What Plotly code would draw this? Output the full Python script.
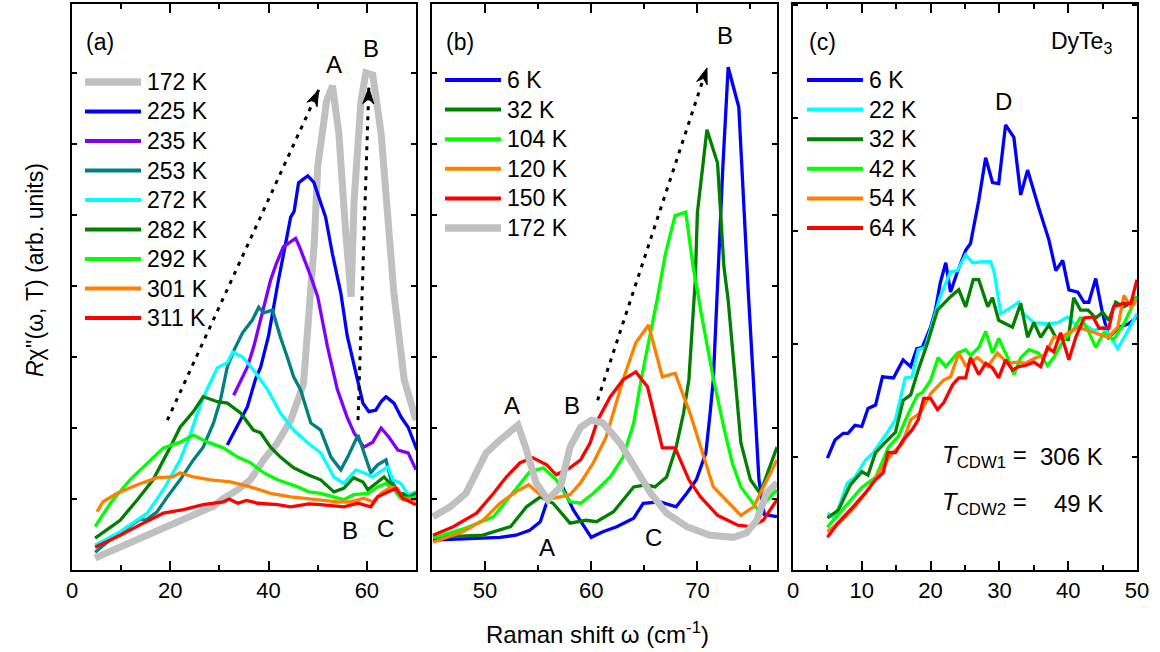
import plotly.graph_objects as go

W, H = 1160, 652
FONT = "Liberation Sans, Arial, sans-serif"

# ---------------- colours ----------------
C_GRAY = "#c0c0c0"
C_BLUE = "#0000ff"
C_PURPLE = "#8000ff"
C_TEAL = "#008080"
C_CYAN = "#00ffff"
C_DGREEN = "#008000"
C_LGREEN = "#00ff00"
C_ORANGE = "#ff8000"
C_RED = "#ff0000"

# ---------------- panel (a) data ----------------
a_names = ["172 K", "225 K", "235 K", "253 K", "272 K", "282 K", "292 K", "301 K", "311 K"]

a172_x = [4.7, 7.0, 9.8, 12.5, 14.5, 16.5, 19.0, 22.0, 24.5, 26.8, 28.8, 30.9, 33.5, 36.3, 39.0, 41.8, 44.5, 47.1,
          48.4, 49.3, 50.0, 51.8, 53.0, 54.3, 55.7, 56.8, 57.4, 58.8, 59.8, 61.2, 62.9, 64.5, 65.5, 67.6, 70.0]
a172_y = [0.17, 0.24, 0.31, 0.40, 0.47, 0.52, 0.60, 0.70, 0.76, 0.82, 0.90, 1.01, 1.12, 1.27, 1.55, 1.79, 2.11, 2.62,
          3.80, 4.60, 5.68, 6.60, 6.82, 6.15, 4.75, 3.85, 5.20, 6.60, 7.00, 6.97, 6.15, 4.75, 3.90, 2.68, 2.11]

a225_x = [31.6, 33.5, 35.7, 37.3, 38.4, 40.0, 41.0, 42.0, 43.2, 44.5, 45.2, 46.1, 47.0, 48.0, 49.2, 50.5, 51.6, 53.0,
          54.7, 56.0, 57.3, 59.2, 60.4, 61.8, 63.0, 63.9, 65.5, 67.0, 68.4, 70.2]
a225_y = [1.76, 2.00, 2.30, 2.68, 2.86, 3.30, 3.70, 4.08, 4.50, 4.97, 5.05, 5.45, 5.50, 5.55, 5.46, 5.20, 4.97, 4.45,
          3.90, 3.30, 2.90, 2.35, 2.23, 2.25, 2.38, 2.44, 2.35, 2.15, 2.01, 1.69]

a235_x = [32.9, 34.3, 35.7, 37.0, 38.4, 40.4, 41.5, 43.0, 44.0, 45.5, 46.3, 47.1, 48.5, 50.0, 52.0, 54.0, 56.0, 57.4,
          59.4, 61.2, 62.9, 64.5, 66.3, 68.4, 70.0]
a235_y = [2.46, 2.65, 2.86, 3.15, 3.52, 4.08, 4.30, 4.55, 4.60, 4.67, 4.55, 4.41, 4.15, 3.85, 3.14, 2.54, 2.15, 1.93,
          1.73, 1.80, 2.00, 1.87, 1.69, 1.65, 1.41]

a253_x = [4.7, 8.4, 11.0, 13.9, 15.0, 17.3, 19.4, 22.0, 24.7, 26.7, 28.8, 30.2, 31.6, 33.0, 34.7, 36.7, 38.0, 39.0,
          40.8, 42.4, 43.8, 45.1, 46.5, 48.6, 50.6, 52.7, 54.7, 56.1, 58.2, 59.4, 60.8, 62.2, 63.9, 64.9, 66.5, 69.0, 70.0]
a253_y = [0.25, 0.46, 0.58, 0.72, 0.70, 0.82, 1.03, 1.27, 1.55, 1.73, 2.07, 2.39, 2.86, 3.10, 3.34, 3.52, 3.70, 3.62,
          3.66, 3.28, 3.00, 2.72, 2.54, 2.07, 1.97, 1.59, 1.41, 1.59, 1.90, 1.65, 1.37, 1.48, 1.55, 1.27, 1.08, 1.06, 1.10]

a272_x = [4.7, 9.8, 15.3, 18.6, 22.0, 24.0, 26.0, 27.5, 29.6, 31.6, 32.7, 34.7, 36.9, 39.8, 42.4, 45.1, 48.0, 50.6,
          53.3, 55.3, 57.8, 59.4, 61.2, 62.4, 64.3, 65.3, 66.9, 68.4, 70.0]
a272_y = [0.35, 0.54, 0.80, 1.13, 1.55, 1.90, 2.30, 2.55, 2.85, 2.92, 3.07, 3.00, 2.82, 2.54, 2.21, 1.97, 1.79, 1.65,
          1.31, 1.22, 1.41, 1.37, 1.31, 1.37, 1.45, 1.27, 1.22, 1.06, 1.10]

a282_x = [4.7, 9.8, 13.3, 16.5, 20.0, 22.0, 24.7, 26.7, 29.6, 31.6, 34.3, 36.9, 38.4, 40.4, 42.4, 45.1, 48.0, 50.6,
          53.3, 55.3, 57.3, 59.2, 60.2, 61.8, 63.5, 65.3, 66.9, 68.6, 70.0]
a282_y = [0.45, 0.70, 0.99, 1.27, 1.73, 2.01, 2.23, 2.44, 2.37, 2.35, 2.21, 1.97, 1.93, 1.73, 1.59, 1.44, 1.34, 1.27,
          1.10, 1.15, 1.30, 1.24, 1.13, 1.22, 1.31, 1.17, 1.08, 1.03, 1.08]

a292_x = [4.7, 7.8, 11.8, 15.3, 18.6, 22.0, 24.7, 27.6, 30.8, 33.7, 36.3, 39.0, 41.8, 45.9, 48.2, 50.6, 53.3, 55.3,
          57.3, 60.2, 62.2, 63.9, 65.5, 66.9, 68.6, 70.0]
a292_y = [0.61, 0.94, 1.27, 1.51, 1.72, 1.80, 1.90, 1.80, 1.72, 1.59, 1.51, 1.37, 1.27, 1.17, 1.10, 1.08, 1.03, 0.99,
          1.06, 1.08, 1.17, 1.22, 1.13, 1.01, 1.01, 1.03]

a301_x = [5.1, 6.3, 9.2, 13.3, 17.3, 20.5, 22.0, 24.7, 28.2, 32.2, 36.3, 40.4, 44.5, 48.2, 50.6, 54.0, 56.7, 59.4,
          61.2, 62.9, 64.9, 66.3, 67.3, 70.0]
a301_y = [0.82, 0.96, 1.08, 1.20, 1.30, 1.31, 1.37, 1.31, 1.27, 1.24, 1.17, 1.08, 1.03, 1.00, 0.99, 0.96, 0.96, 1.01,
          0.96, 1.08, 1.17, 1.15, 0.99, 0.99]

a311_x = [4.7, 9.8, 14.5, 18.6, 22.7, 26.7, 30.8, 32.0, 33.7, 35.5, 37.8, 41.8, 44.5, 48.2, 50.6, 55.3, 58.2, 60.8,
          62.2, 64.3, 65.9, 67.3, 70.0]
a311_y = [0.32, 0.49, 0.66, 0.80, 0.85, 0.92, 0.96, 1.00, 0.94, 0.98, 0.94, 0.92, 0.89, 0.93, 0.92, 0.89, 0.94, 0.89,
          1.03, 1.10, 1.15, 1.01, 0.92]

# ---------------- panel (b) data ----------------
b_names = ["6 K", "32 K", "104 K", "120 K", "150 K", "172 K"]

b6_x = [45.1, 49.2, 51.4, 52.9, 54.2, 55.2, 55.9, 57.2, 58.3, 60.0, 61.1, 62.4, 64.0, 64.9, 66.5, 68.0, 69.0, 69.9,
        70.8, 71.2, 71.5, 72.4, 72.9, 73.9, 74.3, 74.8, 75.3, 75.8, 76.3, 77.5]
b6_y = [0.42, 0.45, 0.46, 0.49, 0.56, 0.68, 0.99, 1.20, 0.85, 0.46, 0.54, 0.61, 0.73, 0.94, 0.96, 0.89, 1.08, 1.27,
        1.65, 2.21, 2.68, 5.68, 7.08, 6.52, 5.30, 3.90, 2.60, 1.27, 0.78, 0.75]

b32_x = [45.1, 49.8, 52.4, 53.9, 55.2, 56.4, 58.0, 59.5, 60.5, 62.1, 64.0, 65.2, 66.0, 67.1, 68.0, 68.7, 69.2, 69.8,
         70.0, 70.9, 71.9, 72.5, 72.9, 73.3, 74.1, 75.0, 75.9, 77.5]
b32_y = [0.46, 0.49, 0.61, 0.89, 1.03, 0.94, 0.66, 0.70, 0.68, 0.82, 1.17, 1.20, 1.17, 1.31, 1.73, 2.21, 2.68, 4.08,
         5.03, 6.20, 5.73, 4.27, 3.80, 3.14, 1.79, 1.27, 1.08, 1.73]

b104_x = [45.1, 48.2, 50.8, 52.6, 54.2, 55.5, 56.7, 58.0, 59.0, 60.2, 61.8, 63.0, 64.0, 64.7, 66.2, 67.0, 67.9, 68.9,
          69.6, 70.5, 71.5, 72.5, 73.3, 74.1, 75.7, 77.5]
b104_y = [0.45, 0.59, 0.75, 1.08, 1.38, 1.44, 1.27, 0.96, 0.94, 1.08, 1.31, 1.59, 2.07, 2.68, 3.80, 4.46, 4.99, 5.04,
          4.27, 3.50, 2.70, 2.00, 1.50, 1.17, 0.85, 1.13]

b120_x = [45.1, 47.9, 49.8, 51.4, 52.9, 54.1, 55.2, 56.4, 58.0, 59.0, 60.2, 61.4, 63.0, 64.2, 65.4, 66.7, 67.9, 69.3,
          71.5, 74.1, 75.3, 77.5]
b120_y = [0.39, 0.54, 0.70, 0.94, 1.10, 1.20, 1.06, 1.01, 1.06, 1.23, 1.51, 1.87, 2.68, 3.20, 3.45, 2.72, 2.77, 2.21,
          1.17, 0.77, 0.89, 1.55]

b150_x = [45.1, 47.0, 49.2, 50.8, 52.0, 53.3, 54.5, 55.8, 56.7, 58.0, 59.0, 59.9, 60.6, 61.8, 63.0, 64.2, 65.3, 66.7,
          67.9, 69.2, 70.3, 71.9, 73.8, 75.0, 76.2, 77.5]
b150_y = [0.49, 0.61, 0.80, 1.08, 1.31, 1.51, 1.58, 1.48, 1.34, 1.44, 1.55, 1.79, 2.11, 2.44, 2.68, 2.79, 2.58, 1.72,
          1.72, 1.27, 1.03, 0.77, 0.63, 0.61, 0.70, 0.99]

b172_x = [45.1, 46.7, 48.2, 50.1, 51.4, 52.4, 53.1, 53.9, 54.8, 55.9, 57.1, 58.0, 59.0, 60.0, 61.1, 62.7, 64.3, 65.6,
          67.1, 69.0, 71.2, 73.4, 74.6, 75.6, 76.5, 77.5]
b172_y = [0.75, 0.89, 1.08, 1.65, 1.83, 1.97, 2.04, 1.69, 1.23, 0.99, 1.17, 1.73, 2.01, 2.11, 2.07, 1.79, 1.41, 1.08,
          0.80, 0.61, 0.49, 0.46, 0.52, 0.70, 1.08, 1.23]

# ---------------- panel (c) data ----------------
c_names = ["6 K", "22 K", "32 K", "42 K", "54 K", "64 K"]

c6_x = [5, 6.1, 7.3, 8, 9, 10, 10.9, 12, 13, 14.6, 16, 17.1, 18, 18.8, 20, 20.7, 21.4, 22.2, 22.9, 23.9, 25.1, 25.8,
        27, 28, 29, 29.9, 30.9, 32.1, 33.1, 34.1, 35.7, 37.2, 38.2, 39.2, 40.1, 41.4, 42.3, 43, 44, 45, 45.9, 47.4,
        48.8, 50]
c6_y = [0.99, 1.15, 1.21, 1.21, 1.28, 1.27, 1.43, 1.46, 1.71, 1.70, 1.86, 1.80, 1.96, 1.97, 2.15, 2.30, 2.54, 2.72,
        2.46, 2.64, 2.83, 2.89, 3.27, 3.65, 3.43, 3.42, 3.94, 3.83, 3.32, 3.54, 3.21, 2.92, 2.65, 2.74, 2.48, 2.46,
        2.37, 2.37, 2.58, 2.27, 2.06, 2.15, 2.18, 2.24]

c22_x = [5, 6.1, 7.9, 9, 10.5, 11.7, 13.4, 14.9, 16.3, 17.3, 18.2, 19.2, 20.3, 21.4, 22.9, 23.9, 25.1, 26.1, 27.7,
         28.7, 29.2, 30.2, 31.6, 32.8, 33.5, 35, 37, 38.5, 39.9, 41.4, 42.3, 43.7, 45.2, 47.2, 48.7, 50]
c22_y = [0.50, 0.46, 0.77, 0.82, 0.97, 1.04, 1.19, 1.33, 1.70, 1.71, 1.95, 1.97, 2.19, 2.42, 2.64, 2.65, 2.79, 2.72,
         2.73, 2.73, 2.65, 2.27, 2.32, 2.37, 2.27, 2.19, 2.18, 2.19, 2.24, 2.15, 2.17, 2.12, 2.15, 1.96, 2.12, 2.27]

c32_x = [5, 6.6, 8.3, 10, 10.9, 12, 13.4, 14.9, 16, 17.1, 18.2, 19.5, 21, 22.9, 24.1, 25.1, 26.2, 27, 28.3, 29, 29.9,
         31.2, 31.9, 33.1, 34.1, 35, 36, 37.2, 38.2, 40, 40.8, 41.8, 42.9, 44, 45, 45.9, 46.9, 48, 49.1, 50]
c32_y = [0.46, 0.53, 0.75, 0.87, 0.84, 1.04, 1.13, 1.22, 1.50, 1.55, 1.77, 2.00, 2.30, 2.42, 2.48, 2.33, 2.57, 2.57,
         2.33, 2.41, 2.21, 2.17, 2.15, 2.36, 2.06, 2.19, 2.06, 2.17, 2.06, 2.04, 2.41, 2.30, 2.30, 2.23, 2.28, 2.21,
         2.37, 2.33, 2.36, 2.42]

c42_x = [5, 8, 10, 12, 13.9, 15.3, 16.8, 18.1, 18.8, 20, 21.1, 22.2, 23.9, 25.1, 25.8, 27, 28, 29, 29.9, 31.2, 32.1,
         33.1, 34.3, 35.7, 37, 37.9, 39.4, 40.7, 41.8, 42.9, 44, 45.2, 46.6, 48.1, 50]
c42_y = [0.38, 0.59, 0.73, 0.82, 1.09, 1.18, 1.39, 1.55, 1.57, 1.68, 1.88, 1.80, 1.92, 1.95, 1.90, 1.97, 2.11, 1.92,
         2.05, 1.88, 1.73, 1.88, 1.95, 1.92, 1.81, 1.88, 2.04, 2.12, 2.24, 2.12, 1.97, 2.10, 2.04, 2.18, 2.42]

c54_x = [5, 7.1, 9, 10.9, 13, 14.4, 15.9, 17.1, 18.5, 20, 21.9, 22.9, 24.1, 25.1, 26.8, 28.3, 29.7, 31.2, 32.7, 33.8,
         35.3, 36.6, 37.9, 38.9, 40.1, 41.4, 42.9, 44, 45.8, 47.2, 48.1, 49.1, 50]
c54_y = [0.34, 0.44, 0.56, 0.71, 0.91, 1.03, 1.12, 1.33, 1.39, 1.56, 1.68, 1.71, 1.92, 1.81, 1.88, 1.80, 1.92, 1.83,
         1.84, 1.83, 1.88, 1.90, 2.06, 2.06, 2.10, 2.15, 2.12, 2.10, 2.06, 2.15, 2.43, 2.33, 2.39]

c64_x = [5, 6.6, 8.6, 10.5, 12, 13.1, 13.8, 14.9, 16, 17.3, 18.2, 19, 20, 21, 21.9, 23.2, 24.1, 25.1, 25.8, 27, 28,
         29, 29.9, 30.9, 31.9, 32.8, 33.8, 35, 36, 37, 37.9, 38.9, 40.1, 41.1, 42.3, 43.6, 44.5, 45.9, 46.6, 48, 49.1, 50]
c64_y = [0.29, 0.42, 0.55, 0.68, 0.80, 0.86, 1.04, 1.04, 1.15, 1.24, 1.33, 1.52, 1.52, 1.42, 1.48, 1.64, 1.70, 1.70,
         1.88, 1.73, 1.83, 1.79, 1.70, 1.86, 1.77, 1.80, 1.81, 1.84, 1.80, 1.97, 1.93, 2.10, 1.86, 2.06, 2.23, 2.24,
         2.14, 2.14, 2.33, 2.36, 2.36, 2.57]

# ---------------- series definitions ----------------
LW, LWG = 3.3, 7
series_a = [(a172_x, a172_y, C_GRAY, LWG), (a225_x, a225_y, C_BLUE, LW), (a235_x, a235_y, C_PURPLE, LW),
            (a253_x, a253_y, C_TEAL, LW), (a272_x, a272_y, C_CYAN, LW), (a282_x, a282_y, C_DGREEN, LW),
            (a292_x, a292_y, C_LGREEN, LW), (a301_x, a301_y, C_ORANGE, LW), (a311_x, a311_y, C_RED, LW)]
series_b = [(b6_x, b6_y, C_BLUE, LW), (b32_x, b32_y, C_DGREEN, LW), (b104_x, b104_y, C_LGREEN, LW),
            (b120_x, b120_y, C_ORANGE, LW), (b150_x, b150_y, C_RED, LW), (b172_x, b172_y, C_GRAY, LWG)]
series_c = [(c6_x, c6_y, C_BLUE, LW), (c22_x, c22_y, C_CYAN, LW), (c32_x, c32_y, C_DGREEN, LW),
            (c42_x, c42_y, C_LGREEN, LW), (c54_x, c54_y, C_ORANGE, LW), (c64_x, c64_y, C_RED, LW)]

fig = go.Figure()

panels = [("x", "y", series_a, a_names), ("x2", "y2", series_b, b_names), ("x3", "y3", series_c, c_names)]
for xa, ya, ser, names in panels:
    for (xs, ys, col, lw), nm in zip(ser, names):
        fig.add_trace(go.Scatter(x=xs, y=ys, mode="lines", name=nm, xaxis=xa, yaxis=ya,
                                 line=dict(color=col, width=lw), showlegend=False, hoverinfo="skip"))


# ---------------- layout ----------------
def px2paper(px, py):
    return px / W, 1 - py / H


YDOM = [1 - 570 / H, 1 - 4 / H]


def xaxis(domain, rng, dtick, mdtick, tick0, anchor):
    return dict(domain=domain, range=rng, dtick=dtick, tick0=tick0, anchor=anchor, automargin=False,
                ticks="inside", ticklen=9, tickwidth=1.5, tickcolor="black",
                minor=dict(dtick=mdtick, tick0=tick0, ticks="inside", ticklen=5, tickwidth=1.5, tickcolor="black"),
                showline=True, linecolor="black", linewidth=2, mirror="ticks",
                showgrid=False, zeroline=False,
                tickfont=dict(family=FONT, size=22, color="black"))


def yaxis(rng, anchor):
    return dict(domain=YDOM, range=rng, dtick=1, tick0=0, anchor=anchor, automargin=False,
                ticks="inside", ticklen=5, tickwidth=1.5, tickcolor="black",
                showticklabels=False, showline=True, linecolor="black", linewidth=2, mirror="ticks",
                showgrid=False, zeroline=False)


fig.update_layout(
    width=W, height=H, autosize=False,
    margin=dict(l=0, r=0, t=0, b=0, pad=0, autoexpand=False),
    paper_bgcolor="white", plot_bgcolor="white", showlegend=False,
    font=dict(family=FONT, size=22, color="black"),
    xaxis=xaxis([72 / W, 416 / W], [0, 70], 20, 10, 0, "y"),
    xaxis2=xaxis([432 / W, 777 / W], [45, 77.5], 10, 5, 50, "y2"),
    xaxis3=xaxis([793 / W, 1137 / W], [0, 50], 10, 5, 0, "y3"),
    yaxis=yaxis([0, 7.97], "x"),
    yaxis2=yaxis([0, 7.97], "x2"),
    yaxis3=yaxis([0, 5.01], "x3"),
)

shapes = []
annots = []


def text(px, py, s, size=23, xanchor="center", yanchor="middle", angle=0):
    x, y = px2paper(px, py)
    annots.append(dict(x=x, y=y, xref="paper", yref="paper", text=s, showarrow=False,
                       xanchor=xanchor, yanchor=yanchor, textangle=angle,
                       font=dict(family=FONT, size=size, color="black")))


# manual legends
def legend(ser, names, x0, x1, xt, y0, dy):
    for i, ((_, _, col, lw), nm) in enumerate(zip(ser, names)):
        py = y0 + dy * i
        ax0, ay = px2paper(x0, py)
        ax1, _ = px2paper(x1, py)
        shapes.append(dict(type="line", xref="paper", yref="paper", x0=ax0, x1=ax1, y0=ay, y1=ay,
                           line=dict(color=col, width=lw + 0.7)))
        text(xt, py, nm, size=23, xanchor="left")


legend(series_a, a_names, 85, 141, 145, 82, 29.5)
legend(series_b, b_names, 445, 501, 505, 80, 29.6)
legend(series_c, c_names, 807, 863, 867, 80, 29.6)

# panel labels
text(84, 42, "(a)", size=23, xanchor="left")
text(444, 42, "(b)", size=23, xanchor="left")
text(807, 42, "(c)", size=23, xanchor="left")

# peak letters
for px, py, s in [(334, 65, "A"), (371, 48, "B"), (350, 530, "B"), (385, 528, "C"),
                  (512, 405, "A"), (572, 405, "B"), (547, 547, "A"), (653, 537, "C"), (725, 35, "B"),
                  (1003, 102, "D")]:
    text(px, py, s, size=24)

text(1049, 43, "DyTe<sub>3</sub>", size=23, xanchor="left")
text(940, 457, "<i>T</i><sub>CDW1</sub> =", size=24, xanchor="left")
text(1105, 457, "306 K", size=24, xanchor="right")
text(940, 503, "<i>T</i><sub>CDW2</sub> =", size=24, xanchor="left")
text(1105, 503, "49 K", size=24, xanchor="right")

# axis titles
text(35, 270, "<i>R</i>χ''(ω, T) (arb. units)", size=23, angle=-90)
text(597, 633, "Raman shift ω (cm<sup>-1</sup>)", size=24)


# dotted arrows (guides)
def arrow(xr, yr, x0, y0, x1, y1, sx, sy):
    shapes.append(dict(type="line", xref=xr, yref=yr, x0=x0, y0=y0, x1=x1, y1=y1,
                       line=dict(color="black", width=3, dash="4px,6px")))
    dxp = (x1 - x0) * sx
    dyp = -(y1 - y0) * sy
    n = (dxp ** 2 + dyp ** 2) ** 0.5
    ux, uy = dxp / n, dyp / n
    vx, vy = -uy, ux
    L, Wd, notch = 16, 11, 11
    pts = [(0, 0), (-L * ux + Wd / 2 * vx, -L * uy + Wd / 2 * vy), (-notch * ux, -notch * uy),
           (-L * ux - Wd / 2 * vx, -L * uy - Wd / 2 * vy)]
    path = ""
    for k, (ox, oy) in enumerate(pts):
        X = x1 + ox / sx
        Y = y1 - oy / sy
        path += ("M" if k == 0 else "L") + f"{X:.4f},{Y:.4f}"
    path += "Z"
    shapes.append(dict(type="path", xref=xr, yref=yr, path=path, fillcolor="black",
                       line=dict(color="black", width=1)))


arrow("x", "y", 19.4, 2.11, 50.2, 6.76, 4.9, 71)
arrow("x", "y", 58.2, 2.11, 60.4, 6.79, 4.9, 71)
arrow("x2", "y2", 60.6, 2.39, 70.9, 7.07, 10.6, 71)

fig.update_layout(shapes=shapes, annotations=annots)

POST = ("document.documentElement.style.margin='0px';document.body.style.margin='0px';"
        "document.body.style.overflow='hidden';document.documentElement.style.overflow='hidden';"
        "var d=document.getElementById('{plot_id}');d.style.position='fixed';d.style.left='0px';d.style.top='0px';")
fig.write_html("out.html", config={"displayModeBar": False, "responsive": False}, post_script=POST)
